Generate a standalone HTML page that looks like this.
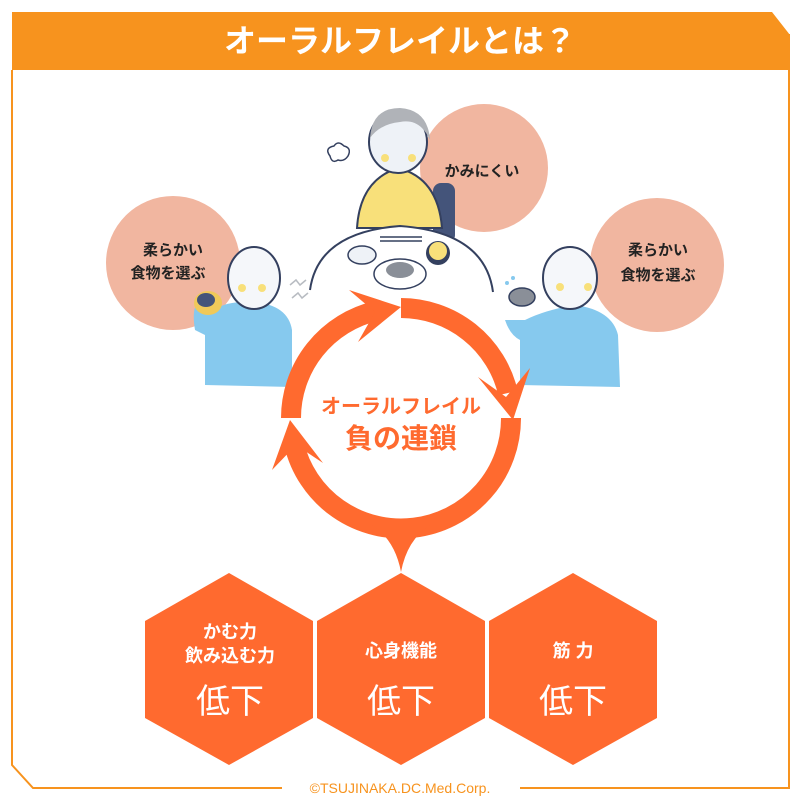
<!DOCTYPE html>
<html><head><meta charset="utf-8"><style>
html,body{margin:0;padding:0;background:#fff;}
svg{display:block;}
text{font-family:"Liberation Sans","Noto Sans CJK JP",sans-serif;}
</style></head><body>
<svg width="801" height="802" viewBox="0 0 801 802" xmlns="http://www.w3.org/2000/svg">
<!-- frame -->
<path d="M12 70 L12 765 L33 788 L282 788" fill="none" stroke="#f7931e" stroke-width="2"/>
<path d="M520 788 L789 788 L789 34" fill="none" stroke="#f7931e" stroke-width="2"/>
<path d="M12 12 L772 12 L790 35 L790 70 L12 70 Z" fill="#f7931e"/>
<text x="400" y="52" font-size="32" font-weight="bold" fill="#fff" text-anchor="middle">オーラルフレイルとは？</text>
<text x="400" y="793" font-size="14" fill="#f7931e" text-anchor="middle">©TSUJINAKA.DC.Med.Corp.</text>

<!-- pink circles -->
<circle cx="484" cy="168" r="64" fill="#f1b6a0"/>
<circle cx="173" cy="263" r="67" fill="#f1b6a0"/>
<circle cx="657" cy="265" r="67" fill="#f1b6a0"/>

<!-- top person -->
<rect x="433" y="183" width="22" height="60" rx="8" fill="#44547a"/>
<path d="M357 228 Q360 180 398 168 Q438 178 442 228 Z" fill="#f8e07a" stroke="#34405f" stroke-width="2"/>
<ellipse cx="398" cy="142" rx="29" ry="31" fill="#eef2f7" stroke="#34405f" stroke-width="2"/>
<path d="M370 138 Q372 108 400 108 Q428 110 430 140 Q420 118 400 122 Q380 124 370 138Z" fill="#b0b3b8"/>
<circle cx="385" cy="158" r="4" fill="#f8e07a"/><circle cx="412" cy="158" r="4" fill="#f8e07a"/>
<path d="M330 156 q-6 -8 4 -10 q4 -6 10 0 q8 2 4 10 q-4 6 -10 4 q-6 4 -8 -4z" fill="none" stroke="#34405f" stroke-width="1.5"/>
<!-- table -->
<path d="M310 290 Q318 232 400 226 Q485 232 493 292" fill="#fff" stroke="#34405f" stroke-width="2"/>
<ellipse cx="362" cy="255" rx="14" ry="9" fill="#eef2f7" stroke="#34405f" stroke-width="1.5"/>
<ellipse cx="400" cy="274" rx="26" ry="15" fill="#fff" stroke="#34405f" stroke-width="1.5"/>
<ellipse cx="400" cy="270" rx="14" ry="8" fill="#8a8f98"/>
<circle cx="438" cy="253" r="12" fill="#34405f"/><circle cx="438" cy="251" r="9" fill="#f8e07a"/>
<path d="M380 237 L422 237 M380 241 L422 241" stroke="#34405f" stroke-width="1.5"/>

<!-- left person -->
<path d="M205 385 L205 320 Q215 300 254 302 Q288 305 292 330 L292 387 Z" fill="#86c9ee"/>
<path d="M195 330 Q190 300 205 300 L215 305 L215 340 Z" fill="#86c9ee"/>
<ellipse cx="254" cy="278" rx="26" ry="31" fill="#f5f7fa" stroke="#34405f" stroke-width="2"/>
<circle cx="242" cy="288" r="4" fill="#f8e07a"/><circle cx="262" cy="288" r="4" fill="#f8e07a"/>
<ellipse cx="208" cy="303" rx="14" ry="12" fill="#f0c95a"/><ellipse cx="206" cy="300" rx="9" ry="7" fill="#44547a"/>
<path d="M290 285 l6 -5 l4 5 l6 -5 M292 298 l6 -5 l4 5 l6 -5" fill="none" stroke="#b8bcc2" stroke-width="1.5"/>

<!-- right person -->
<path d="M520 385 L520 340 Q510 335 505 320 L525 320 Q545 310 575 305 Q612 310 618 335 L620 387 Z" fill="#86c9ee"/>
<ellipse cx="570" cy="278" rx="27" ry="31" fill="#f5f7fa" stroke="#34405f" stroke-width="2"/>
<circle cx="560" cy="287" r="4" fill="#f8e07a"/><circle cx="588" cy="287" r="4" fill="#f8e07a"/>
<ellipse cx="522" cy="297" rx="13" ry="9" fill="#8a8f98" stroke="#34405f" stroke-width="1.5"/>
<circle cx="507" cy="283" r="2" fill="#86c9ee"/><circle cx="513" cy="278" r="2" fill="#86c9ee"/>

<!-- texts in circles -->
<g font-size="15" font-weight="bold" fill="#222" text-anchor="middle">
<text x="482" y="176">かみにくい</text>
<text x="173" y="255">柔らかい</text>
<text x="168" y="278">食物を選ぶ</text>
<text x="658" y="255">柔らかい</text>
<text x="658" y="280">食物を選ぶ</text>
</g>

<!-- cycle -->
<g fill="none" stroke="#ff6a2f" stroke-width="20">
<path d="M401 308 A110 110 0 0 1 508 393"/>
<path d="M511 418 A110 110 0 0 1 294 444"/>
<path d="M291 418 A110 110 0 0 1 376 311"/>
</g>
<g fill="#ff6a2f">
<!-- right arrowhead -->
<polygon points="478,377 506,397 530,368 513,420"/>
<!-- top arrowhead -->
<polygon points="358,342 375,312 349,290 401,307"/>
<!-- left arrowhead -->
<polygon points="323,463 296,445 272,470 290,420"/>
<!-- bottom pointer -->
<path d="M372 525 Q395 540 401 572 Q407 540 430 525 Z"/>
</g>
<text x="401" y="413" font-size="20" font-weight="bold" fill="#ff6a2f" text-anchor="middle">オーラルフレイル</text>
<text x="401" y="448" font-size="28" font-weight="bold" fill="#ff6a2f" text-anchor="middle">負の連鎖</text>

<!-- hexagons -->
<g fill="#ff6a2f">
<polygon points="229,573 313,621 313,718 229,765 145,718 145,621"/>
<polygon points="401,573 485,621 485,718 401,765 317,718 317,621"/>
<polygon points="573,573 657,621 657,718 573,765 489,718 489,621"/>
</g>
<g fill="#fff" text-anchor="middle">
<text x="230" y="638" font-size="18" font-weight="bold">かむ力</text>
<text x="230" y="662" font-size="18" font-weight="bold">飲み込む力</text>
<text x="401" y="657" font-size="18" font-weight="bold">心身機能</text>
<text x="573" y="657" font-size="18" font-weight="bold">筋 力</text>
<text x="230" y="713" font-size="34">低下</text>
<text x="401" y="713" font-size="34">低下</text>
<text x="573" y="713" font-size="34">低下</text>
</g>
</svg>
</body></html>
